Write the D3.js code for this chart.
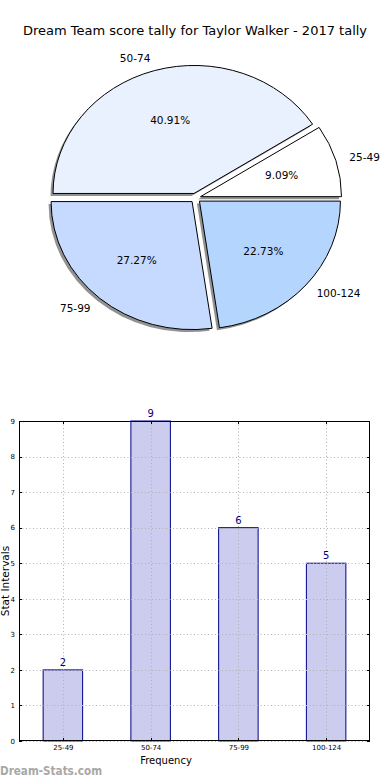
<!DOCTYPE html>
<html>
<head>
<meta charset="utf-8">
<script src="https://cdn.jsdelivr.net/npm/d3@7"></script>
<style>
  html, body { margin: 0; padding: 0; background: #fff; }
  svg { display: block; font-family: "DejaVu Sans", sans-serif; }
</style>
</head>
<body>
<svg id="chart" width="390" height="780"></svg>
<script>
// ---- Data ----
const title = "Dream Team score tally for Taylor Walker - 2017 tally";
const categories = ["25-49", "50-74", "75-99", "100-124"];
const counts = [2, 9, 6, 5];
const sliceColors = ["#ffffff", "#e9f0fe", "#c6d9fe", "#b4d6fe"];
const yTicks = [0, 1, 2, 3, 4, 5, 6, 7, 8, 9];
const xLabel = "Frequency";
const yLabel = "Stat Intervals";
const watermark = "Dream-Stats.com";

const svg = d3.select("#chart");

// ---- Title ----
svg.append("text")
  .attr("x", 195).attr("y", 30)
  .attr("text-anchor", "middle").attr("dominant-baseline", "central")
  .attr("font-size", 13).attr("fill", "#000")
  .text(title);

// ---- Pie (elliptical, exploded, with shadow) ----
const cx = 195.5, cy = 198, rx = 141, ry = 128, explode = 0.037;
const total = d3.sum(counts);
const pie = d3.pie().sort(null)
  .startAngle(Math.PI / 2).endAngle(Math.PI / 2 - 2 * Math.PI);
const arcs = pie(counts);
const arcGen = d3.arc().innerRadius(0).outerRadius(1);

const pieG = svg.append("g");
arcs.forEach((a, i) => {
  const m = (a.startAngle + a.endAngle) / 2;
  const ux = Math.sin(m), uy = -Math.cos(m);
  const wx = cx + explode * rx * ux, wy = cy + explode * ry * uy;
  // shadow
  pieG.append("path")
    .attr("d", arcGen(a))
    .attr("transform", `translate(${wx - 2.5},${wy + 2.5}) scale(${rx},${ry})`)
    .attr("fill", "#7f7f7f").attr("opacity", 0.85);
});
arcs.forEach((a, i) => {
  const m = (a.startAngle + a.endAngle) / 2;
  const ux = Math.sin(m), uy = -Math.cos(m);
  const wx = cx + explode * rx * ux, wy = cy + explode * ry * uy;
  pieG.append("path")
    .attr("d", arcGen(a))
    .attr("transform", `translate(${wx},${wy}) scale(${rx},${ry})`)
    .attr("fill", sliceColors[i])
    .attr("stroke", "#000").attr("stroke-width", 1)
    .attr("vector-effect", "non-scaling-stroke");
  // category label
  const lx = wx + 1.1 * rx * ux, ly = wy + 1.1 * ry * uy;
  pieG.append("text")
    .attr("x", lx).attr("y", ly)
    .attr("text-anchor", ux < 0 ? "end" : "start")
    .attr("dominant-baseline", "central")
    .attr("font-size", 10.5).attr("fill", "#000")
    .text(categories[i]);
  // percent label
  const px = wx + 0.6 * rx * ux, py = wy + 0.6 * ry * uy;
  pieG.append("text")
    .attr("x", px).attr("y", py)
    .attr("text-anchor", "middle").attr("dominant-baseline", "central")
    .attr("font-size", 10.5).attr("fill", "#000")
    .text((a.value / total * 100).toFixed(2) + "%");
});

// ---- Bar chart ----
const L = 19, R = 370, T = 421, B = 741;
const x = d3.scaleLinear().domain([-0.5, categories.length - 0.5]).range([L, R]);
const y = d3.scaleLinear().domain([0, 9]).range([B, T]);
const barW = 0.45;
const bar = svg.append("g");

// bars (drawn under grid)
bar.selectAll("rect.bar").data(counts).enter().append("rect")
  .attr("class", "bar")
  .attr("x", (d, i) => x(i - barW / 2))
  .attr("width", (d, i) => x(i + barW / 2) - x(i - barW / 2))
  .attr("y", d => y(d))
  .attr("height", d => y(0) - y(d))
  .attr("fill", "#ccccee")
  .attr("stroke", "#000088").attr("stroke-width", 1);

// grid
const grid = bar.append("g").attr("stroke", "#b0b0b0").attr("stroke-width", 1)
  .attr("stroke-dasharray", "1,2.5");
yTicks.forEach(t => {
  grid.append("line").attr("x1", L).attr("x2", R)
    .attr("y1", Math.round(y(t)) + 0.5).attr("y2", Math.round(y(t)) + 0.5);
});
categories.forEach((c, i) => {
  grid.append("line").attr("y1", T).attr("y2", B)
    .attr("x1", Math.round(x(i)) + 0.5).attr("x2", Math.round(x(i)) + 0.5);
});

// frame
bar.append("rect").attr("x", L + 0.5).attr("y", T + 0.5)
  .attr("width", R - L - 1).attr("height", B - T - 1)
  .attr("fill", "none").attr("stroke", "#000").attr("stroke-width", 1);

// inner tick marks
const ticks = bar.append("g").attr("stroke", "#000").attr("stroke-width", 1);
yTicks.forEach(t => {
  const yy = Math.round(y(t)) + 0.5;
  ticks.append("line").attr("x1", L).attr("x2", L + 3).attr("y1", yy).attr("y2", yy);
  ticks.append("line").attr("x1", R - 3).attr("x2", R).attr("y1", yy).attr("y2", yy);
});
categories.forEach((c, i) => {
  const xx = Math.round(x(i)) + 0.5;
  ticks.append("line").attr("y1", B).attr("y2", B - 3).attr("x1", xx).attr("x2", xx);
  ticks.append("line").attr("y1", T).attr("y2", T + 3).attr("x1", xx).attr("x2", xx);
});

// axes tick labels via d3 axes (lines hidden)
const yAxis = bar.append("g").attr("transform", `translate(${L},0)`)
  .call(d3.axisLeft(y).tickValues(yTicks).tickSize(0).tickPadding(4));
yAxis.select(".domain").remove();
yAxis.selectAll("text").attr("font-size", 7).attr("font-family", "DejaVu Sans").attr("fill", "#000");

const xAxis = bar.append("g").attr("transform", `translate(0,${B})`)
  .call(d3.axisBottom(x).tickValues(d3.range(categories.length))
    .tickFormat(i => categories[i]).tickSize(0).tickPadding(4));
xAxis.select(".domain").remove();
xAxis.selectAll("text").attr("font-size", 7).attr("font-family", "DejaVu Sans").attr("fill", "#000");

// value labels
bar.selectAll("text.val").data(counts).enter().append("text")
  .attr("class", "val")
  .attr("x", (d, i) => x(i))
  .attr("y", d => y(d) - 4)
  .attr("text-anchor", "middle")
  .attr("font-size", 10).attr("fill", "#000080")
  .text(d => d);

// axis titles
svg.append("text").attr("x", 166).attr("y", 764)
  .attr("text-anchor", "middle").attr("font-size", 10).attr("fill", "#000")
  .text(xLabel);
svg.append("text")
  .attr("transform", `translate(9,${(T + B) / 2}) rotate(-90)`)
  .attr("text-anchor", "middle").attr("font-size", 10.5).attr("fill", "#000")
  .text(yLabel);

// watermark
svg.append("text").attr("x", 0).attr("y", 775)
  .attr("font-size", 12).attr("font-weight", "bold").attr("fill", "#a8a8a8")
  .attr("textLength", 102).attr("lengthAdjust", "spacingAndGlyphs")
  .text(watermark);
</script>
</body>
</html>
